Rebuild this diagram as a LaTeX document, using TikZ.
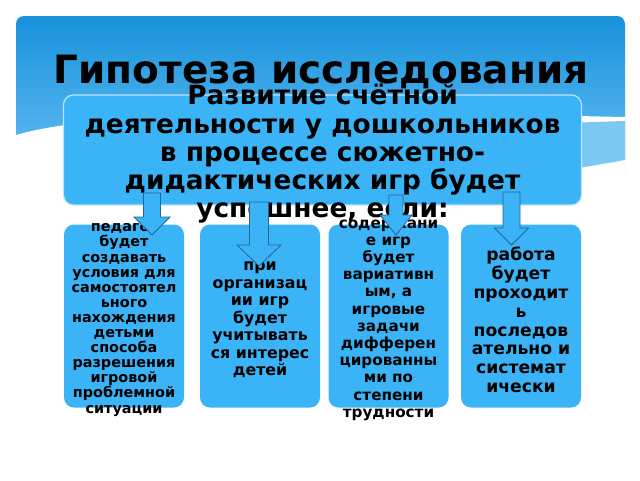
\documentclass[tikz,border=0pt]{standalone}
\usepackage{fontspec}
\setmainfont{DejaVu Sans}[BoldFont={DejaVu Sans Bold}]
\definecolor{boxblue}{RGB}{58,180,247}
\definecolor{paneltop}{RGB}{24,146,220}
\definecolor{panelbot}{RGB}{105,192,244}
\definecolor{bandblue}{RGB}{125,200,243}
\definecolor{arrowline}{RGB}{40,100,150}
\tikzset{
  mainbox/.style={fill=boxblue, draw=white!65!boxblue, line width=1.2pt, rounded corners=10pt, minimum width=518pt, minimum height=110pt, inner sep=0pt},
  smallbox/.style={fill=boxblue, draw=none, rounded corners=10pt, minimum width=120pt, minimum height=183pt, inner sep=0pt},
  maintext/.style={align=center, inner sep=0pt, font=\bfseries\fontsize{26.4}{28.2}\selectfont},
  boxtext/.style={align=center, inner sep=0pt},
  blockarr/.style={fill=boxblue, draw=arrowline, line width=0.8pt, line join=miter},
}
% block arrow: center x, top y, head top y, tip y, shaft half width, head half width
\newcommand\myblockarrow[6]{%
  \draw[blockarr] (#1-#5,#2) -- (#1+#5,#2) -- (#1+#5,#3) -- (#1+#6,#3) -- (#1,#4) -- (#1-#6,#3) -- (#1-#5,#3) -- cycle;}
\begin{document}
\begin{tikzpicture}[x=1pt,y=-1pt]
\useasboundingbox (0,0) rectangle (640,480);
\fill[white] (0,0) rectangle (640,480);
% background panel
\shade[top color=paneltop, bottom color=panelbot, rounded corners=8pt] (16,180) -- (16,16) -- (625,16) -- (625,180) -- cycle;
\fill[white] (16,135) .. controls (120,105) and (380,112) .. (625,117) -- (625,480) -- (16,480) -- cycle;
\fill[bandblue] (470,128) .. controls (540,124) and (590,122) .. (625,121) -- (625,160) .. controls (580,168) and (520,178) .. (470,186) -- cycle;
% title
\node[anchor=base, inner sep=0pt, font=\bfseries\fontsize{39}{41}\selectfont] (title) at (321,83) {Гипотеза исследования};
% main box
\node[mainbox] (main) at (322.5,150) {};
\node[maintext] (maintxt) at (322.5,154) {Развитие счётной\\деятельности у дошкольников\\в процессе сюжетно-\\дидактических игр будет\\успешнее, если:};
% small boxes
\node[smallbox] (b1) at (124,316) {};
\node[smallbox] (b2) at (260,316) {};
\node[smallbox] (b3) at (388.5,316) {};
\node[smallbox] (b4) at (521,316) {};
\node[boxtext, font=\bfseries\fontsize{14.4}{15.1}\selectfont] (t1) at (124,320) {педагог\\будет\\создавать\\условия для\\самостоятел\\ьного\\нахождения\\детьми\\способа\\разрешения\\игровой\\проблемной\\ситуации};
\node[boxtext, font=\bfseries\fontsize{15.8}{17.5}\selectfont] (t2) at (260,320) {при\\организац\\ии игр\\будет\\учитывать\\ся интерес\\детей};
\node[boxtext, font=\bfseries\fontsize{15.2}{17.2}\selectfont] (t3) at (388.5,320) {содержани\\е игр\\будет\\вариативн\\ым, а\\игровые\\задачи\\дифферен\\цированны\\ми по\\степени\\трудности};
\node[boxtext, font=\bfseries\fontsize{17.2}{18.8}\selectfont] (t4) at (521,320) {работа\\будет\\проходит\\ь\\последов\\ательно и\\системат\\ически};
% arrows
\myblockarrow{152}{193}{217}{235}{8.5}{18}
\myblockarrow{259}{202}{245}{266}{9.5}{22}
\myblockarrow{396}{195}{215}{235}{7}{16}
\myblockarrow{511.5}{192}{228}{245}{8.5}{17}
\end{tikzpicture}
\end{document}
